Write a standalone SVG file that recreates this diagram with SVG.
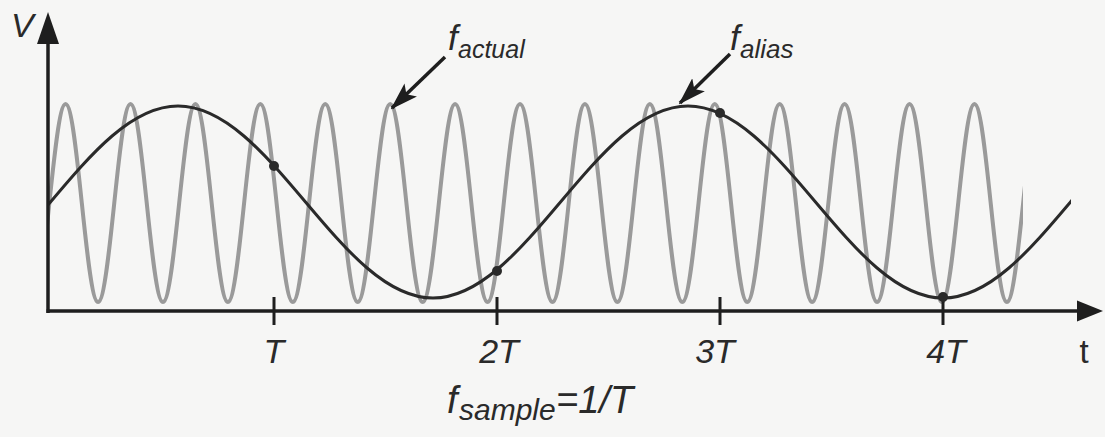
<svg xmlns="http://www.w3.org/2000/svg" width="1105" height="437" viewBox="0 0 1105 437">
<style>
.ax{stroke:#1e1e1e;stroke-width:3.5;fill:none}
.tick{stroke:#1e1e1e;stroke-width:3}
.head{fill:#1e1e1e}
.gray{stroke:#9a9a9a;stroke-width:4;fill:none}
.dark{stroke:#2a2a2a;stroke-width:3;fill:none}
.dot{fill:#2a2a2a}
.lbl{font-family:"Liberation Sans",Arial,sans-serif;font-style:italic;fill:#2a2a2a}
.up{font-family:"Liberation Sans",Arial,sans-serif;fill:#2a2a2a}
.conn{stroke:#1e1e1e;stroke-width:3.5;fill:none}
</style>
<defs>
<marker id="lblArrow" markerUnits="userSpaceOnUse" viewBox="0 0 28 20" refX="26" refY="10" markerWidth="28" markerHeight="20" orient="auto">
<path d="M0,1 L28,10 L0,19 L6,10 z" fill="#1e1e1e"/>
</marker>
<clipPath id="clipGray"><rect x="49" y="0" width="974" height="437"/></clipPath>
<clipPath id="clipDark"><rect x="49" y="0" width="1022" height="437"/></clipPath>
</defs>
<rect width="1105" height="437" fill="#f6f6f5"/>

<g id="wave-actual" clip-path="url(#clipGray)">
<path class="gray" d="M33.12,302 C44.92,302 53.78,104 65.58,104 S86.24,302 98.04,302 S118.70,104 130.50,104 S151.16,302 162.96,302 S183.62,104 195.42,104 S216.08,302 227.88,302 S248.54,104 260.34,104 S281.00,302 292.80,302 S313.46,104 325.26,104 S345.92,302 357.72,302 S378.38,104 390.18,104 S410.84,302 422.64,302 S443.30,104 455.10,104 S475.76,302 487.56,302 S508.22,104 520.02,104 S540.68,302 552.48,302 S573.14,104 584.94,104 S605.60,302 617.40,302 S638.06,104 649.86,104 S670.52,302 682.32,302 S702.98,104 714.78,104 S735.44,302 747.24,302 S767.90,104 779.70,104 S800.36,302 812.16,302 S832.82,104 844.62,104 S865.28,302 877.08,302 S897.74,104 909.54,104 S930.20,302 942.00,302 S962.66,104 974.46,104 S995.12,302 1006.92,302 S1027.58,104 1039.38,104"/>
</g>

<g id="wave-alias" clip-path="url(#clipDark)">
<path class="dark" d="M-77,298 C15.67,298 85.33,106 178,106 S340.33,298 433,298 S595.33,106 688,106 S850.33,298 943,298 S1105.33,106 1198,106"/>
</g>

<g id="axes">
<line class="ax" x1="48" y1="313" x2="48" y2="40"/>
<polygon class="head" points="48,12 37,44 59,44"/>
<line class="ax" x1="46.5" y1="311" x2="1080" y2="311"/>
<polygon class="head" points="1103,311 1077,300.5 1077,321.5"/>
</g>

<g id="ticks">
<line class="tick" x1="274" y1="297" x2="274" y2="325"/>
<line class="tick" x1="497" y1="297" x2="497" y2="325"/>
<line class="tick" x1="720" y1="297" x2="720" y2="325"/>
<line class="tick" x1="943" y1="297" x2="943" y2="325"/>
</g>

<g id="samples">
<circle class="dot" cx="274" cy="166" r="5"/>
<circle class="dot" cx="497" cy="271" r="5"/>
<circle class="dot" cx="720" cy="113" r="5"/>
<circle class="dot" cx="943" cy="297" r="5"/>
</g>

<g id="connectors">
<line class="conn" x1="445" y1="57" x2="392" y2="108" marker-end="url(#lblArrow)"/>
<line class="conn" x1="730" y1="54" x2="680" y2="103" marker-end="url(#lblArrow)"/>
</g>

<g id="label-V"><text class="lbl" x="11" y="37" font-size="34">V</text></g>
<g id="label-t"><text class="up" x="1084" y="363" font-size="33" text-anchor="middle">t</text></g>
<g id="tick-labels">
<text class="lbl" x="274" y="363" font-size="34" text-anchor="middle">T</text>
<text class="lbl" x="499" y="363" font-size="34" text-anchor="middle">2T</text>
<text class="lbl" x="715" y="363" font-size="34" text-anchor="middle">3T</text>
<text class="lbl" x="946" y="363" font-size="34" text-anchor="middle">4T</text>
</g>
<g id="label-factual">
<text class="lbl" x="448" y="50" font-size="35">f<tspan x="458" y="58" font-size="25">actual</tspan></text>
</g>
<g id="label-falias">
<text class="lbl" x="730" y="50" font-size="35">f<tspan x="740" y="58" font-size="26">alias</tspan></text>
</g>
<g id="label-fsample">
<text class="lbl" x="447" y="413" font-size="38">f<tspan x="459" y="420" font-size="30">sample</tspan><tspan x="556" y="413" font-size="38">=1/T</tspan></text>
</g>
</svg>
